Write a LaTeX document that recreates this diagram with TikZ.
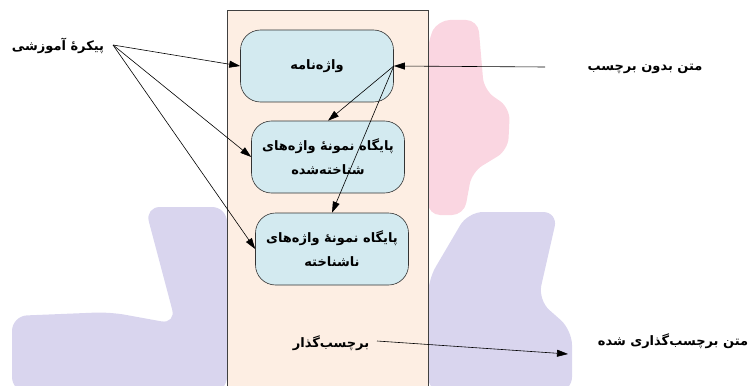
\documentclass[tikz,border=0pt]{standalone}
\usepackage{fontspec}
\usepackage{xcolor}
\usetikzlibrary{arrows.meta, positioning}
\newfontfamily\farsi[Script=Arabic]{DejaVu Sans}
\TeXXeTstate=1
\newcommand{\fa}[1]{\beginR #1\endR}
\definecolor{boxfill}{HTML}{D3EAF0}
\definecolor{tagfill}{HTML}{FDEEE3}
\definecolor{wmpink}{HTML}{FAD6E1}
\definecolor{wmlav}{HTML}{D9D5EE}

\begin{document}
\begin{tikzpicture}[x=1pt, y=-1pt,
    box/.style={rectangle, draw=black!80, fill=boxfill, rounded corners=20pt, minimum width=153pt, minimum height=72pt, font={\farsi\bfseries\fontsize{13}{24}\selectfont}, align=center, line width=0.6pt},
    lbl/.style={font={\farsi\bfseries\fontsize{13}{15}\selectfont}},
    arr/.style={-{Triangle[length=11pt, width=7pt]}, line width=0.6pt}]
    \useasboundingbox (0,0) rectangle (751,385);
    % faint logo behind the picture
    \fill[wmpink, rounded corners=12pt] (438,20) -- (478,20) -- (484,90) -- (510,108) -- (508,150) -- (472,172) -- (464,215) -- (428,215) -- (428,40) -- cycle;
    \fill[wmlav, rounded corners=15pt] (468,212) -- (558,212) -- (538,300) -- (572,330) -- (572,392) -- (428,392) -- (428,280) -- cycle;
    \fill[wmlav, rounded corners=15pt] (145,207) -- (227,207) -- (227,392) -- (12,392) -- (12,316) -- (110,312) -- (176,324) -- cycle;
    % tagger
    \draw[fill=tagfill, draw=black!75, line width=0.7pt] (227,10) rectangle (428,395);
    \node[box] (lex) at (317,66) {\fa{واژه‌نامه}};
    \node[box] (known) at (328,157) {\fa{پایگاه نمونهٔ واژه‌های}\\\fa{شناخته‌شده}};
    \node[box] (unknown) at (332,249) {\fa{پایگاه نمونهٔ واژه‌های}\\\fa{ناشناخته}};
    \node[lbl] (tagger) at (331,343) {\fa{برچسب‌گذار}};
    % outside texts
    \node[lbl] (corpus) at (58,46) {\fa{پیکرهٔ آموزشی}};
    \node[lbl] (raw) at (645,69) {\fa{متن بدون برچسب}};
    \node[lbl] (tagged) at (673,341) {\fa{متن برچسب‌گذاری شده}};
    \coordinate (corpusout) at (113,45);
    \coordinate (rawin) at (545,67);
    \coordinate (tagout) at (377,341);
    \coordinate (taggedin) at (568,354);
    \draw[arr] (corpusout) -- (lex.west);
    \draw[arr] (corpusout) -- (known.west);
    \draw[arr] (corpusout) -- (unknown.west);
    \draw[arr] (rawin) -- (lex.east);
    \draw[arr] (lex.east) -- (known.north);
    \draw[arr] (lex.east) -- (unknown.north);
    \draw[arr] (tagout) -- (taggedin);
  \end{tikzpicture}
\end{document}
